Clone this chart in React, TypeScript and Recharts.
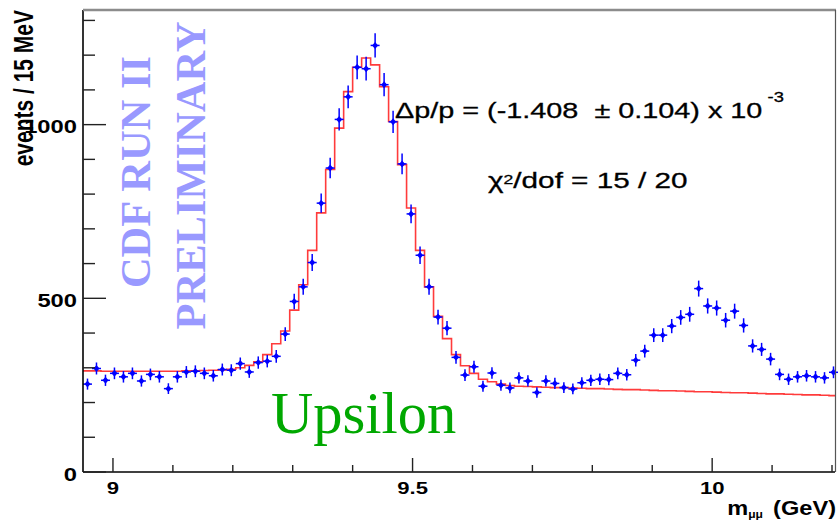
import React from 'react';
import { ComposedChart, Line, Scatter, XAxis, YAxis, ErrorBar } from 'recharts';

// ---- data ----
const BIN_START = 8.95; // GeV, low edge of first 15 MeV bin
const BIN_WIDTH = 0.015; // GeV

const COUNTS = [
  253, 298, 264, 284, 274, 284, 262, 281, 274, 240,
  274, 288, 290, 284, 277, 295, 293, 312, 288, 315,
  319, 333, 397, 491, 533, 603, 774, 875, 1015, 1080,
  1165, 1161, 1228, 1115, 1008, 887, 743, 624, 533, 446,
  414, 330, 279, 303, 247, 285, 250, 242, 271, 262,
  229, 262, 255, 243, 239, 257, 264, 267, 266, 284,
  280, 322, 348, 394, 394, 420, 445, 454, 528, 478,
  472, 437, 463, 422, 363, 353, 325, 281, 267, 274,
  277, 274, 271, 287,
];

const FIT = [
  291, 291, 290, 290, 290, 290, 290, 290, 290, 290, 290, 291, 291, 292, 293,
  294, 296, 300, 307, 317, 338,
  369, 406, 466, 539, 638, 746, 871, 990, 1095, 1165, 1192, 1172, 1109, 1009, 885, 760, 638, 533, 448, 384, 338, 306,
  284, 267, 260, 253, 249, 247, 246,
  245, 244, 243, 243, 242, 241, 240, 240, 239, 238, 237, 237, 236, 235, 234, 234, 233, 232, 231, 231,
  230, 229, 228, 228, 227, 226, 225, 225, 224, 223, 222, 222, 221, 220,
];

const X_DOMAIN = [8.95, 10.205];
const Y_DOMAIN = [0, 1330];
const X_TICKS = [9, 9.1, 9.2, 9.3, 9.4, 9.5, 9.6, 9.7, 9.8, 9.9, 10, 10.1, 10.2];
const X_MAJOR = [9, 9.5, 10];
const Y_TICKS = [0, 100, 200, 300, 400, 500, 600, 700, 800, 900, 1000, 1100, 1200, 1300];
const Y_MAJOR = [0, 500, 1000];

const Y_TITLE = 'events / 15 MeV';
const FIT_TEXT = 'Δp/p = (-1.408  ± 0.104) x 10';
const FIT_EXP = '-3';
const CHI_TEXT = '/dof = 15 / 20';

// ---- layout ----
const W = 838;
const H = 520;
const LEFT = 83;
const RIGHT = 835;
const TOP = 10;
const BOTTOM = 472;

const points = COUNTS.map((n, i) => ({
  m: BIN_START + BIN_WIDTH * (i + 0.5),
  n,
  err: Math.sqrt(n),
  xerr: BIN_WIDTH / 2,
}));

const fitRows = [
  ...FIT.map((f, i) => ({ m: BIN_START + BIN_WIDTH * i, fit: f })),
  { m: BIN_START + BIN_WIDTH * FIT.length, fit: FIT[FIT.length - 1] },
];

const SANS = "'Liberation Sans', Arial, Helvetica, sans-serif";
const SERIF = "'Liberation Serif', 'Times New Roman', serif";

const isIn = (arr: number[], v: number) => arr.some((t) => Math.abs(t - v) < 1e-6);

const XTick = (props: any) => {
  const { x, payload } = props;
  const v = payload.value;
  const major = isIn(X_MAJOR, v);
  return (
    <g>
      <line x1={x} x2={x} y1={BOTTOM} y2={BOTTOM - (major ? 14 : 7)} stroke="#222" strokeWidth={1.4} />
      {major && (
        <text
          transform={`translate(${x},493.5) scale(1.3,1)`}
          textAnchor="middle"
          fontFamily={SANS}
          fontWeight="bold"
          fontSize={17}
          fill="#000"
        >
          {String(v)}
        </text>
      )}
    </g>
  );
};

const YTick = (props: any) => {
  const { y, payload } = props;
  const v = payload.value;
  const major = isIn(Y_MAJOR, v);
  return (
    <g>
      <line x1={LEFT} x2={LEFT + (major ? 23 : 12)} y1={y} y2={y} stroke="#222" strokeWidth={1.4} />
      {major && (
        <text
          transform={`translate(77,${y + 8.5}) scale(1.25,1)`}
          textAnchor="end"
          fontFamily={SANS}
          fontWeight="bold"
          fontSize={19}
          fill="#000"
        >
          {String(v)}
        </text>
      )}
    </g>
  );
};

const PointShape = (props: any) => {
  const { cx, cy } = props;
  if (cx == null || cy == null) return null;
  return (
    <path
      d={`M${cx - 3},${cy} L${cx},${cy - 3.5} L${cx + 3},${cy} L${cx},${cy + 3.5} Z`}
      fill="#0000ff"
    />
  );
};

export default function App() {
  return (
    <div style={{ position: 'absolute', left: 0, top: 0, width: W, height: H, background: '#fff' }}>
      <ComposedChart width={W} height={H} margin={{ top: TOP, right: W - RIGHT, bottom: 0, left: 0 }}>
        <XAxis
          dataKey="m"
          type="number"
          domain={X_DOMAIN}
          ticks={X_TICKS}
          interval={0}
          allowDataOverflow
          height={H - BOTTOM}
          tickLine={false}
          tickSize={0}
          axisLine={{ stroke: '#000', strokeWidth: 1.6 }}
          tick={(p: any) => <XTick {...p} />}
        />
        <YAxis
          type="number"
          domain={Y_DOMAIN}
          ticks={Y_TICKS}
          interval={0}
          allowDataOverflow
          width={LEFT}
          tickLine={false}
          tickSize={0}
          axisLine={{ stroke: '#000', strokeWidth: 1.6 }}
          tick={(p: any) => <YTick {...p} />}
        />
        <Line
          data={fitRows}
          dataKey="fit"
          type="stepAfter"
          stroke="#ff3b3b"
          strokeWidth={1.6}
          dot={false}
          activeDot={false}
          isAnimationActive={false}
        />
        <Scatter data={points} dataKey="n" shape={<PointShape />} isAnimationActive={false}>
          <ErrorBar dataKey="err" direction="y" width={0} stroke="#0000ff" strokeWidth={1.5} isAnimationActive={false} />
          <ErrorBar dataKey="xerr" direction="x" width={0} stroke="#0000ff" strokeWidth={1.5} isAnimationActive={false} />
        </Scatter>
      </ComposedChart>

      <svg
        width={W}
        height={H}
        style={{ position: 'absolute', left: 0, top: 0, pointerEvents: 'none' }}
      >
        {/* frame */}
        <line x1={LEFT} y1={TOP} x2={RIGHT + 1} y2={TOP} stroke="#8c8c8c" strokeWidth={2.5} />
        <line x1={RIGHT + 0.5} y1={TOP} x2={RIGHT + 0.5} y2={BOTTOM} stroke="#555" strokeWidth={1.2} />

        {/* y title */}
        <text
          transform="translate(33,10) scale(1.3,1) rotate(-90)"
          textAnchor="end"
          fontFamily={SANS}
          fontWeight="bold"
          fontSize={21}
          fill="#000"
        >
          {Y_TITLE}
        </text>

        {/* x title */}
        <text
          transform="translate(836,515) scale(1.21,1)"
          textAnchor="end"
          fontFamily={SANS}
          fontWeight="bold"
          fontSize={19.5}
          fill="#000"
          style={{ whiteSpace: 'pre' }}
        >
          m<tspan fontSize={10} dy={3}>μμ</tspan>
          <tspan dy={-3} dx={3}> (GeV)</tspan>
        </text>

        {/* fit result */}
        <text
          transform="translate(395,118) scale(1.31,1)"
          fontFamily={SANS}
          fontSize={22}
          fill="#000"
          stroke="#000"
          strokeWidth={0.3}
          style={{ whiteSpace: 'pre' }}
        >
          {FIT_TEXT}
          <tspan fontSize={14} dx={4} dy={-16}>{FIT_EXP}</tspan>
        </text>

        <text
          transform="translate(488,188) scale(1.35,1)"
          fontFamily={SANS}
          fontSize={22}
          fill="#000"
          stroke="#000"
          strokeWidth={0.3}
          style={{ whiteSpace: 'pre' }}
        >
          χ<tspan fontSize={13} dy={-4}>2</tspan>
          <tspan dy={4}>{CHI_TEXT}</tspan>
        </text>

        {/* CDF preliminary */}
        <text
          transform="translate(150,172) rotate(-90)"
          textAnchor="middle"
          fontFamily={SERIF}
          fontWeight="bold"
          fontSize={42.5}
          fill="#9999ff"
        >
          CDF RUN II
        </text>
        <text
          transform="translate(205,175.5) rotate(-90)"
          textAnchor="middle"
          fontFamily={SERIF}
          fontWeight="bold"
          fontSize={42.5}
          fill="#9999ff"
        >
          PRELIMINARY
        </text>

        {/* Upsilon */}
        <text x={271} y={433} fontFamily={SERIF} fontSize={58.5} fill="#00a800">
          Upsilon
        </text>
      </svg>
    </div>
  );
}
